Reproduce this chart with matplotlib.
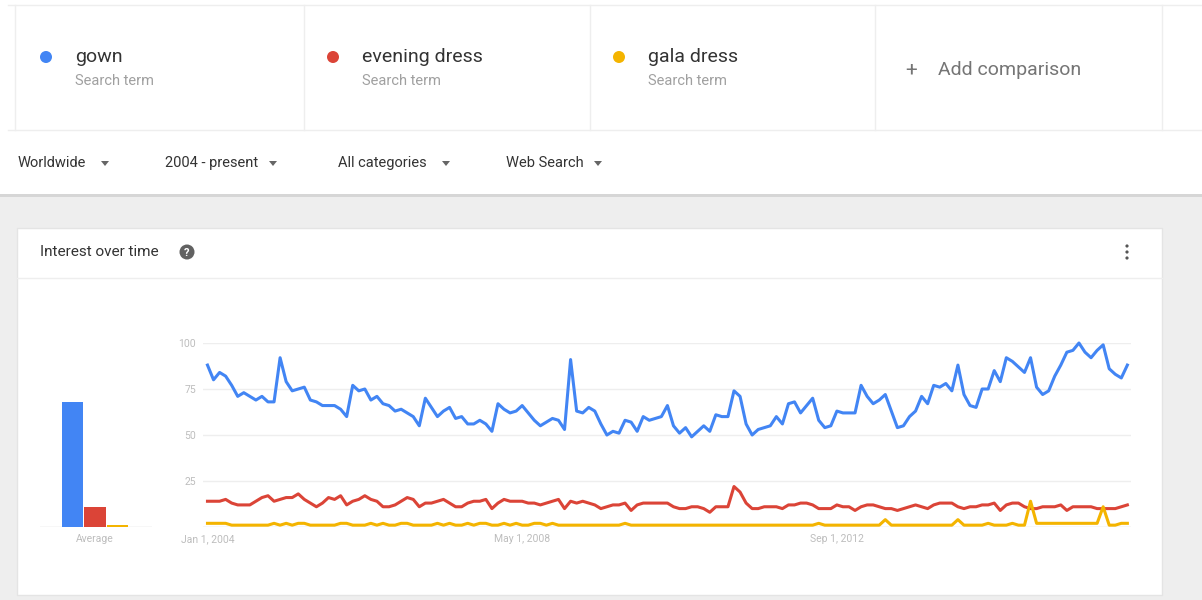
import matplotlib.pyplot as plt
from matplotlib.patches import Rectangle, Circle, Polygon
import numpy as np

plt.rcParams['font.family'] = ['Roboto', 'DejaVu Sans']

# --- data (monthly, Jan 2004 .. ~Sep 2016) ---
terms = ["gown", "evening dress", "gala dress"]
colors = ["#4285f4", "#db4437", "#f4b400"]
filters = ["Worldwide", "2004 - present", "All categories", "Web Search"]
tick_labels = ["Jan 1, 2004", "May 1, 2008", "Sep 1, 2012"]
tick_months = [0, 52, 104]
y_ticks = [25, 50, 75, 100]
averages = [68, 11, 1]

gown = [88, 80, 84, 82, 77, 71, 73, 71, 69, 71, 68, 68, 92, 79, 74, 75, 76, 69, 68, 66,
        66, 66, 64, 60, 77, 74, 75, 69, 71, 67, 66, 63, 64, 62, 60, 55, 70, 65, 60, 63,
        65, 59, 60, 56, 56, 58, 56, 52, 67, 64, 62, 63, 66, 62, 58, 55, 57, 59, 58, 53,
        91, 63, 62, 65, 63, 56, 50, 52, 51, 58, 57, 52, 60, 58, 59, 60, 66, 55, 51, 54,
        49, 52, 55, 52, 61, 60, 60, 74, 71, 56, 50, 53, 54, 55, 60, 56, 67, 68, 62, 66,
        70, 58, 54, 55, 63, 62, 62, 62, 77, 71, 67, 69, 72, 63, 54, 55, 60, 63, 71, 67,
        77, 76, 78, 74, 88, 72, 66, 65, 75, 75, 85, 79, 92, 90, 87, 84, 92, 76, 72, 74,
        82, 88, 95, 96, 100, 95, 92, 96, 99, 86, 83, 81, 88]

evening_dress = [14, 14, 14, 15, 13, 12, 12, 12, 14, 16, 17, 14, 15, 16, 16, 18, 15, 13, 11, 13,
                 16, 15, 17, 12, 14, 15, 17, 15, 14, 11, 11, 12, 14, 16, 15, 11, 13, 13, 14, 15,
                 13, 11, 11, 13, 14, 14, 15, 10, 13, 15, 14, 14, 14, 13, 13, 12, 13, 14, 15, 10,
                 14, 13, 14, 13, 12, 10, 11, 12, 12, 13, 9, 12, 13, 13, 13, 13, 13, 11, 10, 10,
                 11, 11, 10, 8, 11, 11, 11, 22, 19, 13, 10, 10, 11, 11, 11, 10, 12, 12, 13, 13,
                 12, 10, 10, 10, 12, 11, 11, 9, 11, 12, 12, 11, 10, 10, 9, 10, 11, 12, 11, 10,
                 12, 13, 13, 13, 11, 10, 11, 11, 12, 12, 13, 9, 12, 13, 13, 11, 10, 10, 11, 11,
                 11, 12, 9, 11, 11, 11, 11, 10, 10, 10, 10, 11, 12]

gala_dress = [2, 2, 2, 2, 1, 1, 1, 1, 1, 1, 1, 2, 1, 2, 1, 2, 2, 1, 1, 1,
              1, 1, 2, 2, 1, 1, 1, 2, 1, 2, 1, 1, 2, 2, 1, 1, 1, 1, 2, 1,
              2, 1, 1, 2, 1, 2, 2, 1, 1, 2, 1, 2, 1, 1, 2, 2, 1, 2, 1, 1,
              1, 1, 1, 1, 1, 1, 1, 1, 1, 2, 1, 1, 1, 1, 1, 1, 1, 1, 1, 1,
              1, 1, 1, 1, 1, 1, 1, 1, 1, 1, 1, 1, 1, 1, 1, 1, 1, 1, 1, 1,
              1, 2, 1, 1, 1, 1, 1, 1, 1, 1, 1, 1, 4, 1, 1, 1, 1, 1, 1, 1,
              1, 1, 1, 1, 4, 1, 1, 1, 1, 2, 1, 1, 1, 2, 1, 1, 14, 2, 2, 2,
              2, 2, 2, 2, 2, 2, 2, 2, 11, 1, 1, 2, 2]

W, H = 1202, 600
fig = plt.figure(figsize=(W / 100, H / 100), dpi=100)


def box(x0, y0, x1, y1):
    # pixel box -> figure fraction [left, bottom, width, height]
    return [x0 / W, 1 - y1 / H, (x1 - x0) / W, (y1 - y0) / H]


# page background drawn in pixel coordinates
bg = fig.add_axes([0, 0, 1, 1])
bg.set_xlim(0, W)
bg.set_ylim(H, 0)
bg.axis("off")

bg.add_patch(Rectangle((0, 196), W, H - 196, color="#eeeeee", lw=0))
bg.add_patch(Rectangle((0, 194), W, 3, color="#d6d6d6", lw=0))
bg.plot([8, W], [5, 5], color="#eeeeee", lw=1)
bg.plot([8, W], [130, 130], color="#eeeeee", lw=1)
for xd in [15, 304, 590, 875, 1162]:
    bg.plot([xd, xd], [5, 130], color="#eeeeee", lw=1)

# search term cards
card_x = [46, 333, 619]
for x, term, c in zip(card_x, terms, colors):
    bg.add_patch(Circle((x, 57), 6, color=c, lw=0))
    bg.text(x + 29, 57, term, fontsize=14, color="#333333", va="center", ha="left")
    bg.text(x + 29, 81, "Search term", fontsize=10.5, color="#a0a0a0", va="center", ha="left")
bg.text(911, 70, "+", fontsize=15, color="#757575", va="center", ha="center")
bg.text(938, 70, "Add comparison", fontsize=14, color="#757575", va="center", ha="left")

# filter row
filter_x = [18, 165, 338, 506]
arrow_x = [105, 273, 446, 598]
for x, ax_, label in zip(filter_x, arrow_x, filters):
    bg.text(x, 163, label, fontsize=10.5, color="#333333", va="center", ha="left")
    bg.add_patch(Polygon([(ax_ - 4, 161), (ax_ + 4, 161), (ax_, 166)], color="#666666", lw=0))

# interest over time card
bg.add_patch(Rectangle((17, 228), 1145, 367, facecolor="white", edgecolor="#e4e4e4", lw=1))
bg.plot([17, 1162], [278, 278], color="#eeeeee", lw=1)
bg.text(40, 252, "Interest over time", fontsize=11, color="#333333", va="center", ha="left")
bg.add_patch(Circle((187, 252), 7.5, color="#616161", lw=0))
bg.text(187, 252.5, "?", fontsize=8, color="white", fontweight="bold", va="center", ha="center")
for yd in [246, 252, 258]:
    bg.add_patch(Circle((1127, yd), 1.6, color="#555555", lw=0))

# main line chart
ax = fig.add_axes(box(203, 343, 1131, 527))
ax.set_facecolor("none")
months = np.arange(len(gown))
for series, c in zip([gown, evening_dress, gala_dress], colors):
    ax.plot(months, series, color=c, lw=2.2, clip_on=False, zorder=3)
ax.set_xlim(-0.74, 152.6)
ax.set_ylim(0, 100)
ax.set_yticks(y_ticks)
ax.set_xticks(tick_months)
ax.set_xticklabels(tick_labels)
ax.grid(axis="y", color="#eeeeee", lw=1)
ax.axhline(0, color="#d8d8d8", lw=1, zorder=2)
ax.tick_params(length=0, labelsize=7.5, labelcolor="#bdbdbd")
ax.tick_params(axis="y", pad=5)
ax.tick_params(axis="x", pad=5)
for s in ax.spines.values():
    s.set_visible(False)

# average bars
ax2 = fig.add_axes(box(40, 343, 152, 527))
ax2.set_facecolor("none")
ax2.bar(range(len(averages)), averages, width=0.94, color=colors, zorder=3)
ax2.set_xlim(-1.44, 3.53)
ax2.set_ylim(0, 100)
ax2.axhline(0, color="#d8d8d8", lw=1, zorder=2)
ax2.set_yticks([])
ax2.set_xticks([1])
ax2.set_xticklabels(["Average"])
ax2.tick_params(length=0, labelsize=7.5, labelcolor="#bdbdbd", pad=5)
for s in ax2.spines.values():
    s.set_visible(False)

fig.savefig("out.png", dpi=100)
